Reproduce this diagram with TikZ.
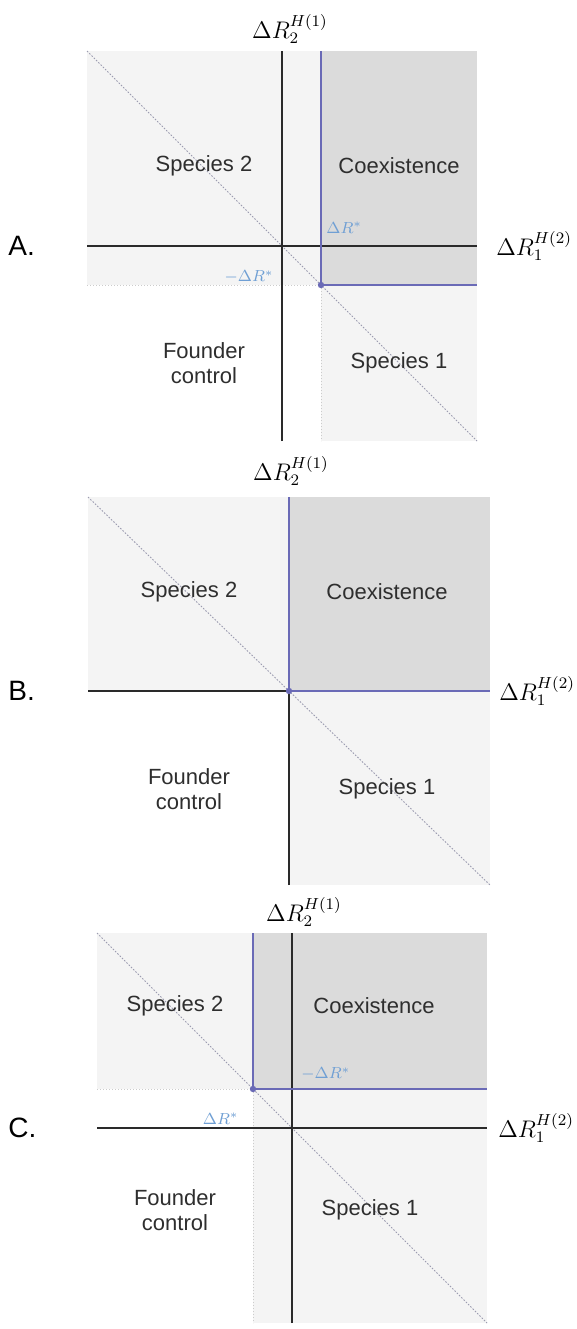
\documentclass[tikz,border=0pt]{standalone}
\usepackage[no-math]{fontspec}
\setmainfont{Liberation Sans}
\usepackage{xcolor}
\usetikzlibrary{math}
\definecolor{coexgray}{HTML}{DBDBDB}
\definecolor{lightreg}{HTML}{F4F4F4}
\definecolor{bndblue}{HTML}{6A6AB6}
\definecolor{starblue}{HTML}{6F9FD4}
\definecolor{axisblack}{HTML}{2A2A2A}
\definecolor{diaggray}{HTML}{9C9CB0}

\begin{document}
\begin{tikzpicture}[x=0.5pt, y=-0.5pt,
  axisline/.style={draw=axisblack, line width=1.3pt},
  coexline/.style={draw=bndblue, line width=0.8pt},
  diagline/.style={draw=diaggray, line width=0.45pt, dash pattern=on 0.8pt off 0.8pt},
  founderedge/.style={draw=black!20, line width=0.4pt, dash pattern=on 0.6pt off 0.9pt},
  region/.style={font=\fontsize{11}{12.5}\selectfont, text=black!82, align=center},
  axlabel/.style={font=\fontsize{11.5}{13}\selectfont, inner sep=0pt},
  starlabel/.style={font=\fontsize{8}{9}\selectfont, text=starblue, inner sep=0pt},
  panellabel/.style={font=\fontsize{14}{16}\selectfont, inner sep=0pt, anchor=west}]
\tikzmath{
\h=195; \s=39;
\hx=201; \hy=194;
}
\useasboundingbox[fill=white] (0,0) rectangle (577,1329);

% panel A
\begin{scope}[shift={(282,246)}]
\fill[lightreg] (-\h,-\h) rectangle (\s,\s);
\fill[lightreg] (\s,\s) rectangle (\h,\h);
\fill[coexgray] (\s,-\h) rectangle (\h,\s);
\draw[founderedge] (-\h,\s) -- (\s,\s) -- (\s,\h);
\draw[diagline] (-\h,-\h) -- (\h,\h);
\draw[axisline] (0,\h) -- (0,-\h) node[above=3pt, xshift=4pt, axlabel] (a-ytitle) {$\Delta R_2^{H(1)}$};
\draw[axisline] (-\h,0) -- (\h,0) node[right=9pt, axlabel] (a-xtitle) {$\Delta R_1^{H(2)}$};
\coordinate (a-star) at (\s,\s);
\draw[coexline] (\s,-\h) -- (a-star) -- (\h,\s);
\fill[bndblue] (a-star) circle (1.6pt);
\node[starlabel, anchor=south west] (a-dr) at (\s+5,-12) {$\Delta R^{*}$};
\node[starlabel, anchor=south east] (a-mdr) at (-8,\s-1) {$-\Delta R^{*}$};
\node[region] (a-sp2) at (-78,-80) {Species 2};
\node[region] (a-coex) at (117,-80) {Coexistence};
\node[region] (a-found) at (-78,117) {Founder\\control};
\node[region] (a-sp1) at (117,117) {Species 1};
\end{scope}
\node[panellabel] (a-letter) at (8,246) {A.};

% panel B
\begin{scope}[shift={(289,691)}]
\fill[lightreg] (-\hx,-\hy) rectangle (0,0);
\fill[lightreg] (0,0) rectangle (\hx,\hy);
\fill[coexgray] (0,-\hy) rectangle (\hx,0);
\draw[diagline] (-\hx,-\hy) -- (\hx,\hy);
\draw[axisline] (0,\hy) -- (0,-\hy) node[above=5pt, xshift=1pt, axlabel] (b-ytitle) {$\Delta R_2^{H(1)}$};
\draw[axisline] (-\hx,0) -- (\hx,0) node[right=4pt, axlabel] (b-xtitle) {$\Delta R_1^{H(2)}$};
\coordinate (b-star) at (0,0);
\draw[coexline] (0,-\hy) -- (b-star) -- (\hx,0);
\fill[bndblue] (b-star) circle (1.6pt);
\node[region] (b-sp2) at (-100,-99) {Species 2};
\node[region] (b-coex) at (98,-99) {Coexistence};
\node[region] (b-found) at (-100,98) {Founder\\control};
\node[region] (b-sp1) at (98,98) {Species 1};
\end{scope}
\node[panellabel] (b-letter) at (8,691) {B.};

% panel C
\begin{scope}[shift={(292,1128)}]
\fill[lightreg] (-\h,-\h) rectangle (-\s,-\s);
\fill[lightreg] (-\s,-\s) rectangle (\h,\h);
\fill[coexgray] (-\s,-\h) rectangle (\h,-\s);
\draw[founderedge] (-\h,-\s) -- (-\s,-\s) -- (-\s,\h);
\draw[diagline] (-\h,-\h) -- (\h,\h);
\draw[axisline] (0,\h) -- (0,-\h) node[above=2.5pt, xshift=6pt, axlabel] (c-ytitle) {$\Delta R_2^{H(1)}$};
\draw[axisline] (-\h,0) -- (\h,0) node[right=5pt, axlabel] (c-xtitle) {$\Delta R_1^{H(2)}$};
\coordinate (c-star) at (-\s,-\s);
\draw[coexline] (-\s,-\h) -- (c-star) -- (\h,-\s);
\fill[bndblue] (c-star) circle (1.6pt);
\node[starlabel, anchor=south east] (c-dr) at (-\s-14,-3) {$\Delta R^{*}$};
\node[starlabel, anchor=south west] (c-mdr) at (9,-\s-8) {$-\Delta R^{*}$};
\node[region] (c-sp2) at (-117,-122) {Species 2};
\node[region] (c-coex) at (82,-122) {Coexistence};
\node[region] (c-found) at (-117,82) {Founder\\control};
\node[region] (c-sp1) at (78,82) {Species 1};
\end{scope}
\node[panellabel] (c-letter) at (8,1128) {C.};
\end{tikzpicture}
\end{document}
